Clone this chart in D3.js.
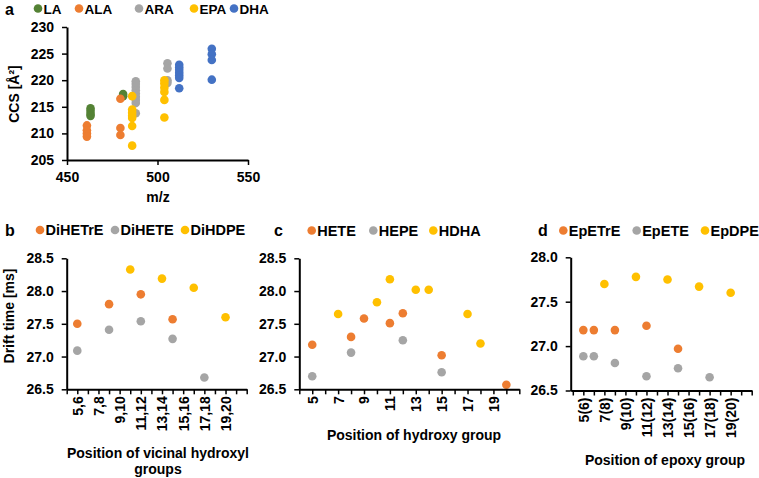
<!DOCTYPE html>
<html><head><meta charset="utf-8">
<script src="https://cdn.jsdelivr.net/npm/d3@7"></script>
<style>
body{margin:0;background:#fff;}
svg{display:block;font-family:"Liberation Sans",Arial,sans-serif;font-weight:bold;}
</style></head><body>
<svg id="chart" width="759" height="478"></svg>
<script>
// ---------- Panel a data ----------
const aSeriesNames = ["LA", "ALA", "ARA", "EPA", "DHA"];
const aMzLA  = [463, 463, 463, 463, 481, 481];
const aCcsLA = [214.7, 214.2, 213.7, 213.3, 217.4, 217.0];
const aMzALA  = [461, 461, 461, 461, 479.5, 479.5, 479.5];
const aCcsALA = [211.5, 210.6, 210.0, 209.4, 216.5, 211.0, 209.7];
const aMzARA  = [488, 488, 488, 488, 488, 488, 488, 488, 488, 505.5, 505.5, 505.5, 505.5];
const aCcsARA = [219.8, 219.3, 218.7, 218.1, 217.5, 216.9, 216.3, 215.7, 213.8, 223.2, 222.2, 220.0, 219.5];
const aMzEPA  = [486, 486, 486, 486, 486, 486, 486, 503.8, 503.8, 503.8, 503.8, 503.8, 503.8];
const aCcsEPA = [217.0, 214.5, 213.9, 213.3, 212.9, 211.4, 207.7, 220.0, 219.4, 218.6, 217.8, 216.3, 213.0];
const aMzDHA  = [512, 512, 512, 512, 512, 512, 512, 530, 530, 530, 530];
const aCcsDHA = [222.9, 222.4, 221.9, 221.4, 220.9, 220.4, 218.5, 225.9, 224.9, 223.8, 220.1];
const aXTicks = [450, 500, 550];
const aYTicks = [205, 210, 215, 220, 225, 230];

// ---------- Panel b data ----------
const bSeriesNames = ["DiHETrE", "DiHETE", "DiHDPE"];
const bX_DiHETrE = [5, 8, 11, 14];
const bY_DiHETrE = [27.50, 27.80, 27.95, 27.57];
const bX_DiHETE  = [5, 8, 11, 14, 17];
const bY_DiHETE  = [27.09, 27.41, 27.54, 27.27, 26.68];
const bX_DiHDPE  = [10, 13, 16, 19];
const bY_DiHDPE  = [28.33, 28.19, 28.05, 27.60];
const bTickPos    = [5, 7, 9, 11, 13, 15, 17, 19];
const bTickLabels = ["5,6", "7,8", "9,10", "11,12", "13,14", "15,16", "17,18", "19,20"];
const bYTicks = [26.5, 27.0, 27.5, 28.0, 28.5];

// ---------- Panel c data ----------
const cSeriesNames = ["HETE", "HEPE", "HDHA"];
const cX_HETE = [5, 8, 9, 11, 12, 15, 20];
const cY_HETE = [27.18, 27.30, 27.58, 27.51, 27.66, 27.02, 26.57];
const cX_HEPE = [5, 8, 12, 15];
const cY_HEPE = [26.70, 27.06, 27.25, 26.76];
const cX_HDHA = [7, 10, 11, 13, 14, 17, 18];
const cY_HDHA = [27.65, 27.83, 28.18, 28.02, 28.02, 27.65, 27.20];
const cTickPos    = [5, 7, 9, 11, 13, 15, 17, 19];
const cTickLabels = ["5", "7", "9", "11", "13", "15", "17", "19"];
const cYTicks = [26.5, 27.0, 27.5, 28.0, 28.5];

// ---------- Panel d data ----------
const dSeriesNames = ["EpETrE", "EpETE", "EpDPE"];
const dX_EpETrE = [5, 6, 8, 11, 14];
const dY_EpETrE = [27.18, 27.18, 27.18, 27.23, 26.97];
const dX_EpETE  = [5, 6, 8, 11, 14, 17];
const dY_EpETE  = [26.885, 26.885, 26.81, 26.66, 26.75, 26.65];
const dX_EpDPE  = [7, 10, 13, 16, 19];
const dY_EpDPE  = [27.70, 27.78, 27.75, 27.67, 27.60];
const dTickPos    = [5, 7, 9, 11, 13, 15, 17, 19];
const dTickLabels = ["5(6)", "7(8)", "9(10)", "11(12)", "13(14)", "15(16)", "17(18)", "19(20)"];
const dYTicks = [26.5, 27.0, 27.5, 28.0];

// ---------- colours ----------
const GREEN = "#548235", ORANGE = "#ED7D31", GRAY = "#A5A5A5", YELLOW = "#FFC000", BLUE = "#4472C4";

const svg = d3.select("#chart");
const R = 4.3;

function zip(xs, ys) { return xs.map((x, i) => ({x: x, y: ys[i]})); }

function drawPanel(opt) {
  const g = svg.append("g");
  const x = d3.scaleLinear().domain(opt.xDomain).range(opt.xRange);
  const y = d3.scaleLinear().domain(opt.yDomain).range(opt.yRange);

  // points
  opt.series.forEach(s => {
    g.append("g").selectAll("circle").data(zip(s.xs, s.ys)).join("circle")
      .attr("cx", d => x(d.x)).attr("cy", d => y(d.y)).attr("r", R)
      .attr("fill", s.color);
  });

  // y axis
  const ya = d3.axisLeft(y).tickValues(opt.yTicks).tickSize(5).tickSizeOuter(0).tickPadding(opt.yPad || 8)
    .tickFormat(opt.yFormat);
  const yg = g.append("g").attr("transform", `translate(${opt.xRange[0]},0)`).call(ya);
  yg.select(".domain").attr("stroke", "#000").attr("stroke-width", 2);
  yg.selectAll(".tick line").attr("stroke", "#000").attr("stroke-width", 1.5);
  yg.selectAll(".tick text").attr("fill", "#000").style("font-size", "14px").style("font-weight", "bold")
    .style("font-family", '"Liberation Sans", Arial, sans-serif');

  // x axis
  let xa;
  if (opt.xLabels) {
    const all = d3.range(Math.ceil(opt.xDomain[0]), Math.floor(opt.xDomain[1]) + 1);
    xa = d3.axisBottom(x).tickValues(all).tickSize(5).tickSizeOuter(0)
      .tickFormat(v => { const i = opt.xLabelPos.indexOf(v); return i >= 0 ? opt.xLabels[i] : ""; });
  } else {
    xa = d3.axisBottom(x).tickValues(opt.xTicks).tickSize(5).tickSizeOuter(0).tickPadding(7);
  }
  const xg = g.append("g").attr("transform", `translate(0,${opt.yRange[0]})`).call(xa);
  xg.select(".domain").attr("stroke", "#000").attr("stroke-width", 2);
  xg.selectAll(".tick line").attr("stroke", "#000").attr("stroke-width", 1.5);
  const xt = xg.selectAll(".tick text").attr("fill", "#000").style("font-size", "14px").style("font-weight", "bold")
    .style("font-family", '"Liberation Sans", Arial, sans-serif');
  if (opt.xLabels) {
    xt.attr("transform", "rotate(-90)").attr("x", -7).attr("y", 0).attr("dy", "0.35em")
      .style("text-anchor", "end");
  }

  // titles
  if (opt.yTitle) {
    g.append("text").attr("transform", `translate(${opt.yTitlePos[0]},${opt.yTitlePos[1]}) rotate(-90)`)
      .attr("text-anchor", "middle").style("font-size", "14px").text(opt.yTitle);
  }
  opt.xTitle.forEach((t, i) => {
    g.append("text").attr("x", opt.xTitlePos[0]).attr("y", opt.xTitlePos[1] + i * 16)
      .attr("text-anchor", "middle").style("font-size", "14px").text(t);
  });

  // panel letter
  g.append("text").attr("x", opt.letterPos[0]).attr("y", opt.letterPos[1])
    .style("font-size", "16px").text(opt.letter);

  // legend
  opt.series.forEach((s, i) => {
    const lx = opt.legendX[i];
    g.append("circle").attr("cx", lx).attr("cy", opt.legendY).attr("r", 4.3).attr("fill", s.color);
    g.append("text").attr("x", lx + 5.5).attr("y", opt.legendY + 5)
      .style("font-size", opt.legendSize || "14.5px").text(s.name);
  });
}

// Panel a
drawPanel({
  xDomain: [450, 550], xRange: [67, 248],
  yDomain: [205, 230], yRange: [160, 27],
  xTicks: aXTicks, yTicks: aYTicks, yFormat: d3.format("d"),
  series: [
    {name: aSeriesNames[0], color: GREEN,  xs: aMzLA,  ys: aCcsLA},
    {name: aSeriesNames[1], color: ORANGE, xs: aMzALA, ys: aCcsALA},
    {name: aSeriesNames[2], color: GRAY,   xs: aMzARA, ys: aCcsARA},
    {name: aSeriesNames[3], color: YELLOW, xs: aMzEPA, ys: aCcsEPA},
    {name: aSeriesNames[4], color: BLUE,   xs: aMzDHA, ys: aCcsDHA}
  ],
  yTitle: "CCS [Å²]", yTitlePos: [19, 94],
  xTitle: ["m/z"], xTitlePos: [158, 202],
  letter: "a", letterPos: [5, 15],
  legendX: [38, 79, 139, 194, 234], legendY: 8.5, legendSize: "13.5px"
});

// Panel b
drawPanel({
  xDomain: [4, 21], xRange: [66.7, 246.7],
  yDomain: [26.5, 28.5], yRange: [389.3, 258.3],
  xLabelPos: bTickPos, xLabels: bTickLabels, yTicks: bYTicks, yFormat: d3.format(".1f"),
  series: [
    {name: bSeriesNames[0], color: ORANGE, xs: bX_DiHETrE, ys: bY_DiHETrE},
    {name: bSeriesNames[1], color: GRAY,   xs: bX_DiHETE,  ys: bY_DiHETE},
    {name: bSeriesNames[2], color: YELLOW, xs: bX_DiHDPE,  ys: bY_DiHDPE}
  ],
  yTitle: "Drift time [ms]", yTitlePos: [14, 316],
  xTitle: ["Position of vicinal hydroxyl", "groups"], xTitlePos: [158, 458],
  letter: "b", letterPos: [5, 236],
  legendX: [40, 115, 185], legendY: 230
});

// Panel c
drawPanel({
  xDomain: [4, 21], xRange: [299.3, 519.3],
  yDomain: [26.5, 28.5], yRange: [389.3, 258.3],
  xLabelPos: cTickPos, xLabels: cTickLabels, yTicks: cYTicks, yFormat: d3.format(".1f"),
  series: [
    {name: cSeriesNames[0], color: ORANGE, xs: cX_HETE, ys: cY_HETE},
    {name: cSeriesNames[1], color: GRAY,   xs: cX_HEPE, ys: cY_HEPE},
    {name: cSeriesNames[2], color: YELLOW, xs: cX_HDHA, ys: cY_HDHA}
  ],
  yTitle: "", yTitlePos: [0, 0],
  xTitle: ["Position of hydroxy group"], xTitlePos: [414, 440],
  letter: "c", letterPos: [274, 236],
  legendX: [311.7, 373.3, 433.3], legendY: 230.5
});

// Panel d
drawPanel({
  xDomain: [3.8, 21], xRange: [570.7, 751.7],
  yDomain: [26.5, 28.0], yRange: [390.5, 257.3],
  xLabelPos: dTickPos, xLabels: dTickLabels, yTicks: dYTicks, yFormat: d3.format(".1f"),
  series: [
    {name: dSeriesNames[0], color: ORANGE, xs: dX_EpETrE, ys: dY_EpETrE},
    {name: dSeriesNames[1], color: GRAY,   xs: dX_EpETE,  ys: dY_EpETE},
    {name: dSeriesNames[2], color: YELLOW, xs: dX_EpDPE,  ys: dY_EpDPE}
  ],
  yTitle: "", yTitlePos: [0, 0],
  xTitle: ["Position of epoxy group"], xTitlePos: [665, 465],
  letter: "d", letterPos: [538, 236],
  legendX: [563.3, 636.7, 705], legendY: 230.5
});
</script>
</body></html>
